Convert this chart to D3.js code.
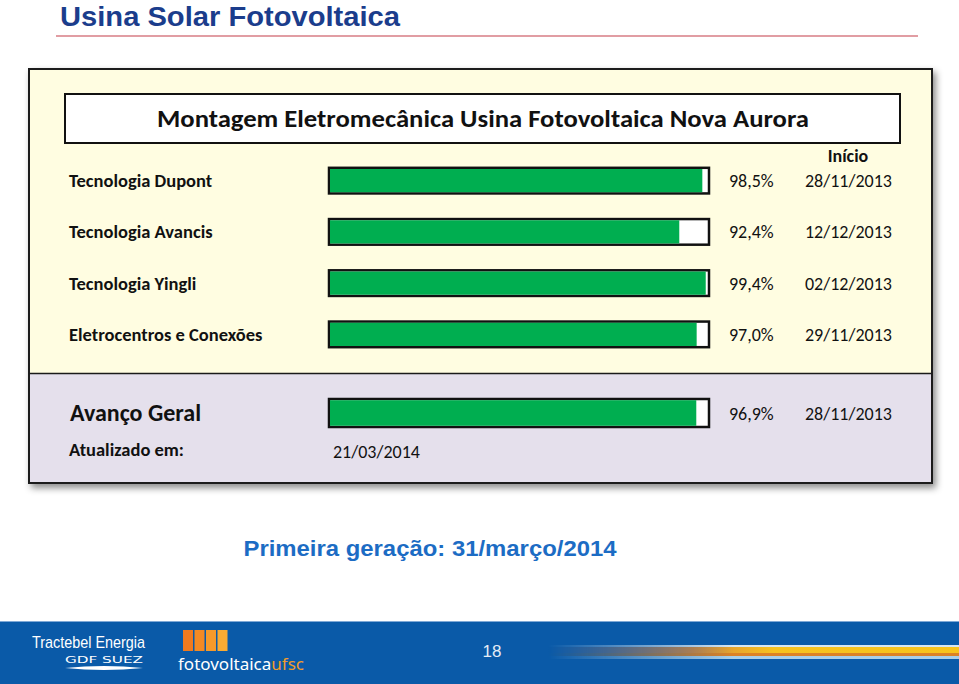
<!DOCTYPE html>
<html>
<head>
<meta charset="utf-8">
<script src="https://cdn.jsdelivr.net/npm/d3@7"></script>
<style>
  body { margin: 0; background: #fff; }
  svg { display: block; }
</style>
</head>
<body>
<div id="chart"></div>
<script>
// data
var pageTitle = "Usina Solar Fotovoltaica";
var panelTitle = "Montagem Eletromecânica Usina Fotovoltaica Nova Aurora";
var activities = ["Tecnologia Dupont", "Tecnologia Avancis", "Tecnologia Yingli", "Eletrocentros e Conexões"];
var progress = [98.5, 92.4, 99.4, 97.0];
var startDates = ["28/11/2013", "12/12/2013", "02/12/2013", "29/11/2013"];
var overallLabel = ["Avanço Geral"];
var overallProgress = [96.9];
var overallStart = ["28/11/2013"];
var updatedOn = "21/03/2014";
var firstGeneration = "Primeira geração: 31/março/2014";
var pageNumber = "18";

var W = 959, H = 684;
var calibri = "Carlito, Lato, 'Open Sans', sans-serif";
var fmtPct = function(v) { return d3.format(".1f")(v).replace(".", ",") + "%"; };

var svg = d3.select("#chart")
  .append("svg")
  .attr("width", W)
  .attr("height", H);

var defs = svg.append("defs");

// drop shadow of the panel
var shadow = defs.append("filter").attr("id", "shadow")
  .attr("x", "-5%").attr("y", "-5%").attr("width", "115%").attr("height", "120%");
shadow.append("feDropShadow")
  .attr("dx", 3).attr("dy", 4).attr("stdDeviation", 3.5)
  .attr("flood-color", "#000").attr("flood-opacity", 0.45);

// page header
svg.append("text")
  .attr("x", 60).attr("y", 26)
  .attr("textLength", 340).attr("lengthAdjust", "spacingAndGlyphs")
  .style("font-family", "'Liberation Sans Narrow', 'Liberation Sans', Arial, sans-serif")
  .style("font-weight", "bold")
  .style("font-size", "28px")
  .style("fill", "#1b3d8c")
  .text(pageTitle);

svg.append("line")
  .attr("x1", 56).attr("x2", 918).attr("y1", 36).attr("y2", 36)
  .style("stroke", "#c43c48").style("stroke-width", 1.2);

// panel
var panel = svg.append("g");
panel.append("rect")
  .attr("x", 29).attr("y", 69).attr("width", 903).attr("height", 414)
  .style("fill", "#e5e0ec")
  .style("stroke", "#1a1a1a").style("stroke-width", 2)
  .attr("filter", "url(#shadow)");
panel.append("rect")
  .attr("x", 30).attr("y", 70).attr("width", 901).attr("height", 303)
  .style("fill", "#fffde1");
panel.append("line")
  .attr("x1", 29).attr("x2", 932).attr("y1", 373.5).attr("y2", 373.5)
  .style("stroke", "#1a1a1a").style("stroke-width", 1.5);

panel.append("rect")
  .attr("x", 65).attr("y", 94).attr("width", 835).attr("height", 49)
  .style("fill", "#fff")
  .style("stroke", "#111").style("stroke-width", 2);
panel.append("text")
  .attr("x", 483).attr("y", 127)
  .attr("text-anchor", "middle")
  .attr("textLength", 652).attr("lengthAdjust", "spacingAndGlyphs")
  .style("font-family", calibri)
  .style("font-weight", "bold")
  .style("font-size", "25px")
  .style("fill", "#111")
  .text(panelTitle);

panel.append("text")
  .attr("x", 848).attr("y", 162)
  .attr("text-anchor", "middle")
  .style("font-family", calibri)
  .style("font-weight", "bold")
  .style("font-size", "18px")
  .style("fill", "#111")
  .text("Início");

// scales
var x = d3.scaleLinear().domain([0, 100]).range([330, 708]);
var y = d3.scaleBand()
  .domain(activities)
  .range([155, 360])
  .paddingInner(0.5)
  .paddingOuter(0.25);

var rows = activities.map(function(a, i) {
  return { name: a, value: progress[i], start: startDates[i] };
});

function drawBar(g, yTop, h, value) {
  g.append("rect")
    .attr("x", x(0) - 1).attr("y", yTop)
    .attr("width", x(100) - x(0) + 2).attr("height", h)
    .style("fill", "#fff")
    .style("stroke", "#111").style("stroke-width", 2.5);
  g.append("rect")
    .attr("x", x(0)).attr("y", yTop + 1.2)
    .attr("width", x(value) - x(0)).attr("height", h - 2.4)
    .style("fill", "#00ae50");
}

var rowG = panel.selectAll("g.row")
  .data(rows)
  .enter()
  .append("g")
  .attr("class", "row");

rowG.each(function(d) {
  var g = d3.select(this);
  var yTop = y(d.name);
  var cy = yTop + y.bandwidth() / 2;
  g.append("text")
    .attr("x", 69).attr("y", cy + 6.5)
    .style("font-family", calibri)
    .style("font-weight", "bold")
    .style("font-size", "18.5px")
    .style("fill", "#111")
    .text(d.name);
  drawBar(g, yTop, y.bandwidth(), d.value);
  g.append("text")
    .attr("x", 729).attr("y", cy + 6.5)
    .style("font-family", calibri)
    .style("font-size", "18px")
    .style("fill", "#111")
    .text(fmtPct(d.value));
  g.append("text")
    .attr("x", 805).attr("y", cy + 6.5)
    .style("font-family", calibri)
    .style("font-size", "18px")
    .style("fill", "#111")
    .text(d.start);
});

// overall progress
var yOverall = d3.scaleBand().domain(overallLabel).range([399, 427]);
var og = panel.append("g");
var oTop = yOverall(overallLabel[0]);
var oc = oTop + yOverall.bandwidth() / 2;
og.append("text")
  .attr("x", 70).attr("y", oc + 8)
  .style("font-family", calibri)
  .style("font-weight", "bold")
  .style("font-size", "24px")
  .style("fill", "#111")
  .text(overallLabel[0]);
drawBar(og, oTop, yOverall.bandwidth(), overallProgress[0]);
og.append("text")
  .attr("x", 729).attr("y", oc + 6.5)
  .style("font-family", calibri)
  .style("font-size", "18px")
  .style("fill", "#111")
  .text(fmtPct(overallProgress[0]));
og.append("text")
  .attr("x", 805).attr("y", oc + 6.5)
  .style("font-family", calibri)
  .style("font-size", "18px")
  .style("fill", "#111")
  .text(overallStart[0]);

og.append("text")
  .attr("x", 69).attr("y", 456)
  .style("font-family", calibri)
  .style("font-weight", "bold")
  .style("font-size", "18.5px")
  .style("fill", "#111")
  .text("Atualizado em:");
og.append("text")
  .attr("x", 333).attr("y", 458)
  .style("font-family", calibri)
  .style("font-size", "18px")
  .style("fill", "#111")
  .text(updatedOn);

// first generation note
svg.append("text")
  .attr("x", 430).attr("y", 556)
  .attr("text-anchor", "middle")
  .attr("textLength", 373).attr("lengthAdjust", "spacingAndGlyphs")
  .style("font-family", "'Liberation Sans', Arial, sans-serif")
  .style("font-weight", "bold")
  .style("font-size", "22px")
  .style("fill", "#1c6cc4")
  .text(firstGeneration);

// footer band
var footer = svg.append("g");
footer.append("rect")
  .attr("x", 0).attr("y", 621).attr("width", W).attr("height", H - 621)
  .style("fill", "#0a5aa8");
footer.append("line")
  .attr("x1", 0).attr("x2", W).attr("y1", 621.5).attr("y2", 621.5)
  .style("stroke", "#7fa9d6").style("stroke-width", 1);

// light streak on the right
var fade = defs.append("linearGradient").attr("id", "fade")
  .attr("x1", 0).attr("x2", 1).attr("y1", 0).attr("y2", 0);
fade.append("stop").attr("offset", "0%").attr("stop-color", "#fff").attr("stop-opacity", 0);
fade.append("stop").attr("offset", "25%").attr("stop-color", "#fff").attr("stop-opacity", 0.55);
fade.append("stop").attr("offset", "45%").attr("stop-color", "#fff").attr("stop-opacity", 1);
fade.append("stop").attr("offset", "100%").attr("stop-color", "#fff").attr("stop-opacity", 1);
defs.append("mask").attr("id", "fadeMask")
  .attr("maskUnits", "userSpaceOnUse")
  .append("rect")
  .attr("x", 548).attr("y", 640).attr("width", 411).attr("height", 25)
  .style("fill", "url(#fade)");

var warm = defs.append("linearGradient").attr("id", "warm")
  .attr("x1", 0).attr("x2", 1).attr("y1", 0).attr("y2", 0);
warm.append("stop").attr("offset", "0%").attr("stop-color", "#b07a70");
warm.append("stop").attr("offset", "35%").attr("stop-color", "#d8883a");
warm.append("stop").attr("offset", "55%").attr("stop-color", "#f6c21f");
warm.append("stop").attr("offset", "100%").attr("stop-color", "#f8c41c");

var streak = footer.append("g").attr("mask", "url(#fadeMask)");
streak.append("rect").attr("x", 548).attr("y", 645).attr("width", 411).attr("height", 2)
  .style("fill", "#d6e6f2");
streak.append("rect").attr("x", 548).attr("y", 647).attr("width", 411).attr("height", 6)
  .style("fill", "url(#warm)");
streak.append("rect").attr("x", 548).attr("y", 653).attr("width", 411).attr("height", 3)
  .style("fill", "#dc8225");
streak.append("rect").attr("x", 548).attr("y", 656).attr("width", 411).attr("height", 3)
  .style("fill", "#a8cfe9");

// logos
footer.append("text")
  .attr("x", 32).attr("y", 648)
  .attr("textLength", 113).attr("lengthAdjust", "spacingAndGlyphs")
  .style("font-family", "'Liberation Sans Narrow', 'Liberation Sans', sans-serif")
  .style("font-size", "17px")
  .style("fill", "#fff")
  .text("Tractebel Energia");
footer.append("text")
  .attr("x", 65).attr("y", 663)
  .attr("textLength", 78).attr("lengthAdjust", "spacingAndGlyphs")
  .style("font-family", "'DejaVu Sans', sans-serif")
  .style("font-size", "9px")
  .style("fill", "#fff")
  .text("GDF SUEZ");
footer.append("path")
  .attr("d", "M65,668 Q104,664 143,668 Q104,672 65,668 Z")
  .style("fill", "#fff");

var barColors = ["#f07a1e", "#f38a24", "#f69a2a", "#f9ab33"];
footer.selectAll("rect.logo")
  .data(barColors)
  .enter()
  .append("rect")
  .attr("class", "logo")
  .attr("x", function(d, i) { return 183 + i * 11.5; })
  .attr("y", 630)
  .attr("width", 10)
  .attr("height", 21)
  .style("fill", function(d) { return d; });
var logoText = footer.append("text")
  .attr("x", 178).attr("y", 670)
  .attr("textLength", 126).attr("lengthAdjust", "spacingAndGlyphs")
  .style("font-family", "'Noto Sans', sans-serif")
  .style("font-size", "17px");
logoText.append("tspan").style("fill", "#fff").text("fotovoltaica");
logoText.append("tspan").style("fill", "#f39c2b").text("ufsc");

footer.append("text")
  .attr("x", 492).attr("y", 657)
  .attr("text-anchor", "middle")
  .style("font-family", "'Liberation Sans Narrow', 'Liberation Sans', sans-serif")
  .style("font-size", "17px")
  .style("fill", "#e4ecf6")
  .text(pageNumber);
</script>
</body>
</html>
